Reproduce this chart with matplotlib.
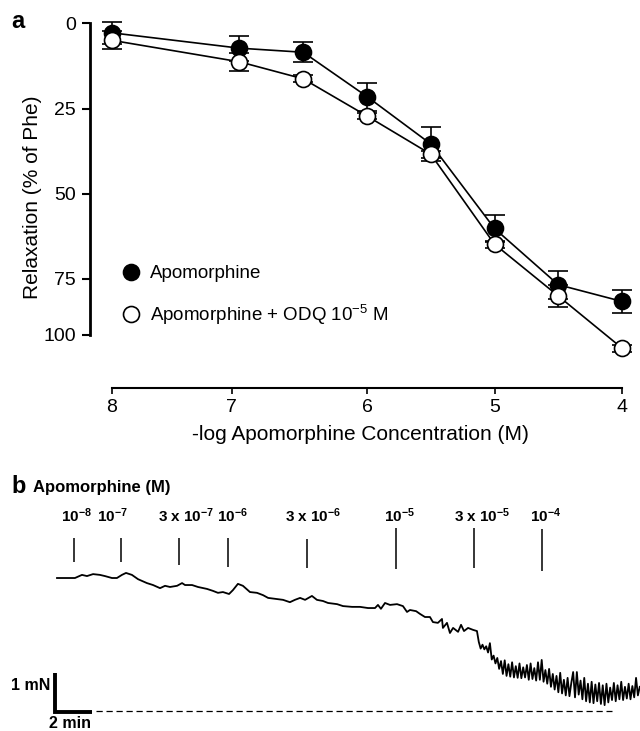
import matplotlib
matplotlib.use("Agg")
import matplotlib.pyplot as plt
from matplotlib.lines import Line2D

# 畫布大小（像素）
W, H = 640, 731
plt.rcParams["font.family"] = ["Liberation Sans", "DejaVu Sans"]
plt.rcParams["mathtext.default"] = "regular"   # 上標用跟文字一樣的字型
NARROW = ["Liberation Sans Narrow", "Liberation Sans", "DejaVu Sans"]

# ---- panel a：濃度-反應曲線 ----
log_conc = [8, 7, 6.5, 6, 5.5, 5, 4.5, 4]
apo_mean = [2.8, 7.3, 8.5, 21.5, 35.4, 60.2, 76.7, 81.6]
apo_sem = [3.2, 3.7, 3.0, 4.1, 4.9, 4.0, 4.1, 3.4]
odq_mean = [5.0, 11.3, 16.3, 27.2, 38.4, 64.8, 80.0, 95.3]
odq_sem = [2.6, 2.7, 1.0, 1.0, 1.0, 1.0, 3.3, 1.0]
x_ticks = [8, 7.06, 6, 5, 4]
x_ticklabels = ["8", "7", "6", "5", "4"]
y_ticks = [0, 25, 50, 75, 91.4]
y_ticklabels = ["0", "25", "50", "75", "100"]

# ---- panel b：張力記錄（min, mN） ----
trace_time = [0.00, 0.43, 0.97, 1.35, 1.62, 1.95, 2.32, 2.59, 2.97, 3.24,
              3.51, 3.73, 4.05, 4.38, 4.86, 5.19, 5.57, 5.84, 6.11, 6.49,
              6.76, 6.92, 7.30, 7.62, 8.11, 8.43, 8.70, 8.97, 9.30, 9.51,
              9.78, 10.05, 10.43, 10.81, 11.14, 11.41, 11.89, 12.22, 12.59, 12.86,
              13.14, 13.41, 13.78, 14.05, 14.38, 14.65, 15.14, 15.46, 15.95, 16.38,
              16.81, 17.19, 17.35, 17.51, 17.73, 18.00, 18.38, 18.70, 18.92, 19.08,
              19.41, 19.62, 19.89, 20.16, 20.32, 20.59, 20.81, 20.86, 21.08, 21.24,
              21.41, 21.68, 21.84, 22.00, 22.22, 22.49, 22.70,
              22.8, 22.9, 23.0, 23.1, 23.2, 23.3, 23.4, 23.5, 23.6, 23.7,
              23.8, 23.9, 24.0, 24.1, 24.2, 24.3, 24.4, 24.5, 24.6, 24.7,
              24.8, 24.9, 25.0, 25.1, 25.2, 25.3, 25.4, 25.5, 25.6, 25.7,
              25.8, 25.9, 26.0, 26.1, 26.2, 26.3, 26.4, 26.5, 26.6, 26.7,
              26.8, 26.9, 27.0, 27.1, 27.2, 27.3, 27.4, 27.5, 27.6, 27.7,
              27.8, 27.9, 28.0, 28.1, 28.2, 28.3, 28.4, 28.5, 28.6, 28.7,
              28.8, 28.9, 29.0, 29.1, 29.2, 29.3, 29.4, 29.5, 29.6, 29.7,
              29.8, 29.9, 30.0, 30.1, 30.2, 30.3, 30.4, 30.5, 30.6, 30.7,
              30.8, 30.9, 31.0, 31.1, 31.2, 31.3, 31.4, 31.5]
trace_mN = [3.41, 3.41, 3.41, 3.49, 3.46, 3.51, 3.49, 3.46, 3.41, 3.41,
            3.49, 3.54, 3.49, 3.38, 3.28, 3.23, 3.15, 3.21, 3.18, 3.21,
            3.28, 3.23, 3.23, 3.18, 3.13, 3.08, 3.03, 3.05, 3.00, 3.10,
            3.26, 3.21, 3.05, 3.03, 2.97, 2.90, 2.87, 2.85, 2.79, 2.85,
            2.90, 2.85, 2.95, 2.85, 2.82, 2.77, 2.74, 2.69, 2.67, 2.67,
            2.64, 2.64, 2.72, 2.62, 2.77, 2.72, 2.74, 2.69, 2.54, 2.59,
            2.56, 2.49, 2.41, 2.41, 2.28, 2.26, 2.36, 2.13, 2.26, 2.00,
            2.13, 2.03, 2.21, 2.05, 2.13, 2.08, 2.05,
            1.77, 1.60, 1.70, 1.58, 1.66, 1.50, 1.74, 1.32, 1.42, 1.22,
            1.36, 1.08, 1.28, 0.95, 1.30, 0.90, 1.20, 0.88, 1.25, 0.86,
            1.15, 0.85, 1.22, 0.84, 1.12, 0.86, 1.18, 0.80, 1.22, 0.82,
            1.10, 0.78, 1.25, 0.80, 1.31, 0.75, 1.05, 0.70, 1.08, 0.62,
            0.95, 0.55, 0.90, 0.48, 0.98, 0.45, 0.80, 0.40, 0.85, 0.38,
            0.72, 1.00, 0.35, 1.00, 0.42, 0.78, 0.30, 0.85, 0.25, 0.70,
            0.22, 0.75, 0.20, 0.68, 0.25, 0.72, 0.18, 0.66, 0.15, 0.70,
            0.22, 0.60, 0.28, 0.72, 0.25, 0.66, 0.30, 0.75, 0.28, 0.62,
            0.32, 0.70, 0.30, 0.64, 0.35, 0.85, 0.40, 0.62]
dose_time = [0.92, 3.46, 6.59, 9.24, 13.51, 18.32, 22.54, 26.22]
dose_labels = ["$10^{-8}$", "$10^{-7}$", "3 x $10^{-7}$", "$10^{-6}$",
               "3 x $10^{-6}$", "$10^{-5}$", "3 x $10^{-5}$", "$10^{-4}$"]
label_time = [1.08, 2.97, 6.97, 9.46, 13.84, 18.49, 22.97, 26.43]
dose_top = [4.44, 4.44, 4.44, 4.44, 4.41, 4.69, 4.69, 4.67]
dose_bottom = [3.82, 3.82, 3.74, 3.69, 3.67, 3.64, 3.67, 3.59]
baseline_t = [2.11, 30.0]


def fx(px):
    return px / W


def fy(py):
    return 1 - py / H


fig = plt.figure(figsize=(W / 100, H / 100), dpi=100)

# ================= panel a =================
ax = fig.add_axes([fx(90), fy(388), (632 - 90) / W, (388 - 10) / H])
ax.errorbar(log_conc, apo_mean, yerr=apo_sem, fmt="-o", color="black",
            mfc="black", mec="black", ms=11.5, mew=1.2, lw=1.2,
            elinewidth=1.2, capsize=7, capthick=1.2, zorder=2)
ax.errorbar(log_conc, odq_mean, yerr=odq_sem, fmt="-o", color="black",
            mfc="white", mec="black", ms=11.5, mew=1.2, lw=1.2,
            elinewidth=1.2, capsize=7, capthick=1.2, zorder=3)

ax.set_xlim(8.1725, 3.9216)
ax.set_ylim(107.0, -3.9)
for s in ["top", "right"]:
    ax.spines[s].set_visible(False)
ax.spines["left"].set_bounds(0, 91.4)
ax.spines["left"].set_linewidth(2)
ax.spines["bottom"].set_bounds(4, 8)
ax.spines["bottom"].set_linewidth(1.5)
ax.set_yticks(y_ticks, y_ticklabels)
ax.set_xticks(x_ticks, x_ticklabels)
ax.tick_params(axis="y", length=6, width=1.5, pad=4, labelsize=14)
ax.tick_params(axis="x", length=4, width=1.2, pad=4, labelsize=14)

handles = [
    Line2D([], [], marker="o", ls="none", mfc="black", mec="black", ms=11.5, mew=1.2),
    Line2D([], [], marker="o", ls="none", mfc="white", mec="black", ms=11.5, mew=1.2),
]
fig.legend(handles, ["Apomorphine", "Apomorphine + ODQ 10$^{-5}$ M"],
           loc="upper left", bbox_to_anchor=(fx(122), fy(265)),
           bbox_transform=fig.transFigure, frameon=False, fontsize=13.5,
           borderpad=0, borderaxespad=0, handlelength=1.0,
           handletextpad=0.5, labelspacing=1.1)

fig.text(fx(33), fy(197), "Relaxation (% of Phe)", rotation=90,
         ha="center", va="center", fontsize=15)
fig.text(fx(360), fy(434), "-log Apomorphine Concentration (M)",
         ha="center", va="center", fontsize=15)
fig.text(fx(11), fy(28), "a", fontsize=17, fontweight="bold")

# ================= panel b =================
axb = fig.add_axes([0, 0, 1, (H - 440) / H])
axb.set_xlim(-57 / 18.5, 583 / 18.5)
axb.set_ylim(-20 / 39, 271 / 39)
axb.axis("off")

axb.plot(trace_time, trace_mN, color="black", lw=1.3)
axb.plot(baseline_t, [0, 0], color="black", lw=0.9, ls=(0, (5, 3)))

# 比例尺：1 mN / 2 min
t_c, f_c = -0.11, -0.03
axb.plot([t_c, t_c, t_c + 2], [f_c + 1, f_c, f_c], color="black", lw=2.8,
         solid_joinstyle="miter", solid_capstyle="butt")

axb.vlines(dose_time, dose_bottom, dose_top, color="black", lw=1.1)
for t, lab in zip(label_time, dose_labels):
    axb.text(t, 4.85, lab, ha="center", va="baseline", fontsize=11,
             fontweight="bold", family=NARROW)

fig.text(fx(11), fy(493), "b", fontsize=17, fontweight="bold")
fig.text(fx(33), fy(492), "Apomorphine (M)", fontsize=12,
         fontweight="bold", family=NARROW)
fig.text(fx(50), fy(686), "1 mN", ha="right", va="center", fontsize=11.5,
         fontweight="bold", family=NARROW)
fig.text(fx(70), fy(724), "2 min", ha="center", va="center", fontsize=11.5,
         fontweight="bold", family=NARROW)

fig.savefig("out.png", dpi=100)
